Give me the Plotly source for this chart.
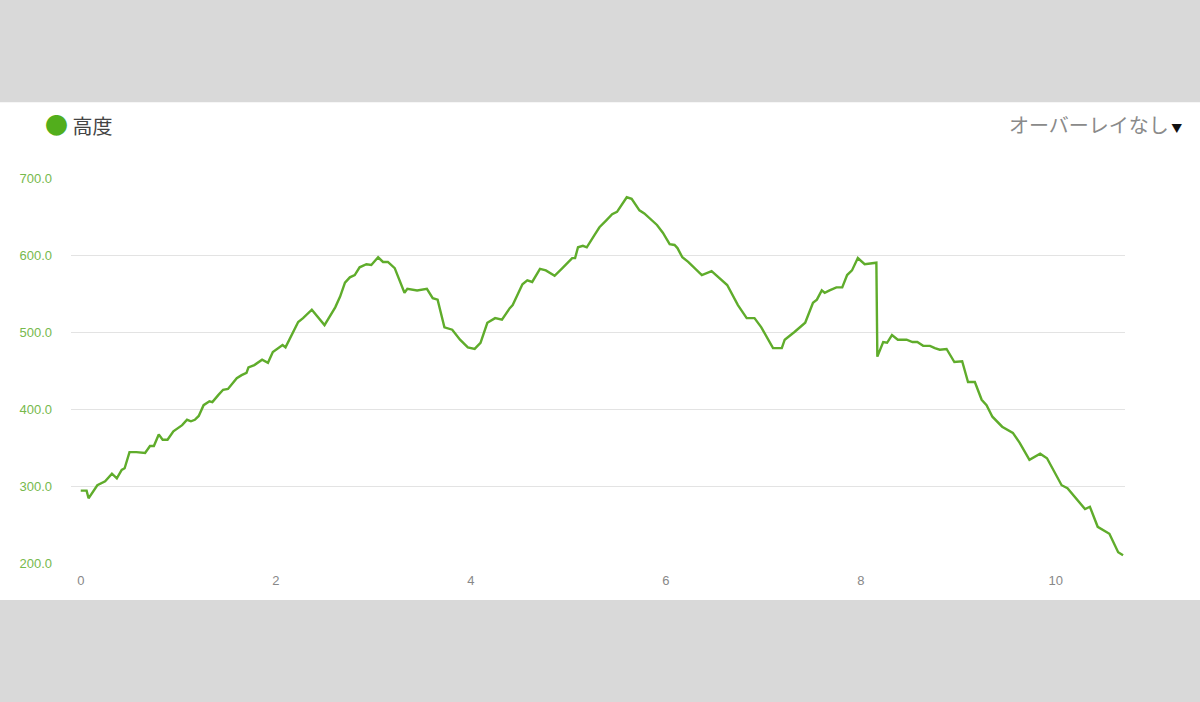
import plotly.graph_objects as go

# distance (km) and elevation (m) read from the profile
distance = [
    0.00, 0.06, 0.08, 0.12, 0.17, 0.25, 0.32, 0.37, 0.42, 0.45, 0.50, 0.57,
    0.66, 0.71, 0.75, 0.80, 0.84, 0.89, 0.95, 1.04, 1.09, 1.13, 1.17, 1.21,
    1.26, 1.32, 1.35, 1.41, 1.46, 1.51, 1.60, 1.65, 1.70, 1.72, 1.78, 1.86,
    1.92, 1.97, 2.02, 2.07, 2.10, 2.14, 2.23, 2.28, 2.37, 2.50, 2.61, 2.66,
    2.71, 2.76, 2.81, 2.86, 2.93, 2.98, 3.05, 3.10, 3.15, 3.22, 3.28, 3.32,
    3.35, 3.45, 3.55, 3.61, 3.66, 3.73, 3.81, 3.89, 3.97, 4.04, 4.10, 4.17,
    4.25, 4.32, 4.40, 4.43, 4.53, 4.58, 4.63, 4.71, 4.77, 4.86, 4.94, 5.04,
    5.07, 5.10, 5.15, 5.19, 5.27, 5.32, 5.39, 5.45, 5.50, 5.55, 5.60, 5.65,
    5.73, 5.78, 5.91, 5.97, 6.04, 6.09, 6.12, 6.17, 6.23, 6.37, 6.47, 6.63,
    6.74, 6.83, 6.91, 6.98, 7.10, 7.19, 7.22, 7.32, 7.43, 7.51, 7.55, 7.60,
    7.63, 7.68, 7.75, 7.81, 7.86, 7.91, 7.97, 8.04, 8.16, 8.17, 8.23, 8.27,
    8.32, 8.38, 8.47, 8.53, 8.58, 8.64, 8.71, 8.76, 8.81, 8.88, 8.96, 9.04,
    9.10, 9.17, 9.24, 9.29, 9.35, 9.45, 9.56, 9.63, 9.73, 9.84, 9.91, 10.06,
    10.12, 10.30, 10.35, 10.43, 10.50, 10.55, 10.64, 10.69,
]
elevation = [
    294, 294, 284, 291, 301, 306, 316, 310, 321, 323, 344, 344,
    343, 352, 352, 367, 360, 360, 371, 379, 386, 384, 386, 391,
    405, 410, 409, 418, 425, 426, 440, 444, 447, 454, 457, 464,
    460, 474, 479, 483, 480, 490, 513, 518, 529, 509, 532, 546,
    564, 571, 574, 584, 588, 587, 597, 591, 591, 583, 565, 551,
    556, 554, 556, 544, 542, 506, 503, 490, 480, 478, 486, 512,
    518, 516, 531, 535, 562, 567, 565, 582, 580, 573, 583, 596,
    596, 610, 612, 610, 626, 636, 645, 653, 656, 665, 675, 673,
    658, 654, 639, 629, 614, 613, 609, 597, 591, 574, 579, 561,
    535, 518, 518, 506, 479, 479, 490, 500, 512, 538, 542, 554,
    551, 554, 558, 558, 574, 580, 596, 588, 590, 468, 487, 486,
    496, 490, 490, 487, 487, 482, 482, 479, 477, 478, 461, 462,
    435, 435, 412, 405, 390, 377, 369, 356, 334, 342, 336, 301,
    297, 270, 273, 247, 242, 238, 214, 210,
]

x_ticks = [0, 2, 4, 6, 8, 10]
y_ticks = [200, 300, 400, 500, 600, 700]

LINE_GREEN = '#5fac2b'
DOT_GREEN = '#52ae1c'

fig = go.Figure()
fig.add_trace(go.Scatter(
    x=distance,
    y=elevation,
    mode='lines',
    line=dict(color=LINE_GREEN, width=2.4),
    showlegend=False,
    hoverinfo='x+y',
))

fig.update_layout(
    width=1200,
    height=702,
    paper_bgcolor='#d9d9d9',
    plot_bgcolor='white',
    margin=dict(l=71, r=75, t=178, b=139),
    font=dict(family='Liberation Sans, Arial, sans-serif'),
    # white band behind the chart
    shapes=[dict(
        type='rect', xref='paper', yref='paper',
        x0=-0.1, x1=1.1, y0=-0.096, y1=1.197,
        fillcolor='white', line=dict(width=0), layer='below',
    )],
    annotations=[
        dict(
            text=(f'<span style="color:{DOT_GREEN};font-size:23px">●</span>'
                  '<span style="font-size:20px"> 高度</span>'),
            xref='paper', yref='paper', x=-0.0265, y=1.14,
            xanchor='left', yanchor='middle', showarrow=False,
            font=dict(family='Noto Sans CJK JP', color='#444444'),
        ),
        dict(
            text=('オーバーレイなし'
                  '<span style="color:#111111;font-size:11px"> ▼</span>'),
            xref='paper', yref='paper', x=1.056, y=1.14,
            xanchor='right', yanchor='middle', showarrow=False,
            font=dict(family='Noto Sans CJK JP', size=20, color='#8a8a8a'),
        ),
    ],
)

fig.update_xaxes(
    range=[-0.1, 10.71],
    tickvals=x_ticks,
    ticktext=[str(v) for v in x_ticks],
    showgrid=False,
    zeroline=False,
    showline=False,
    tickfont=dict(size=13, color='#888888'),
    ticklabelstandoff=8,
)
fig.update_yaxes(
    range=[200, 700],
    tickvals=y_ticks,
    ticktext=[f'{v}.0' for v in y_ticks],
    showgrid=True,
    gridcolor='#e3e3e3',
    gridwidth=1,
    zeroline=False,
    showline=False,
    tickfont=dict(size=13, color='#76b94c'),
    ticklabelstandoff=18,
)

fig.write_html(
    "out.html",
    config={'displayModeBar': False},
    post_script="document.body.style.margin='0';",
)
